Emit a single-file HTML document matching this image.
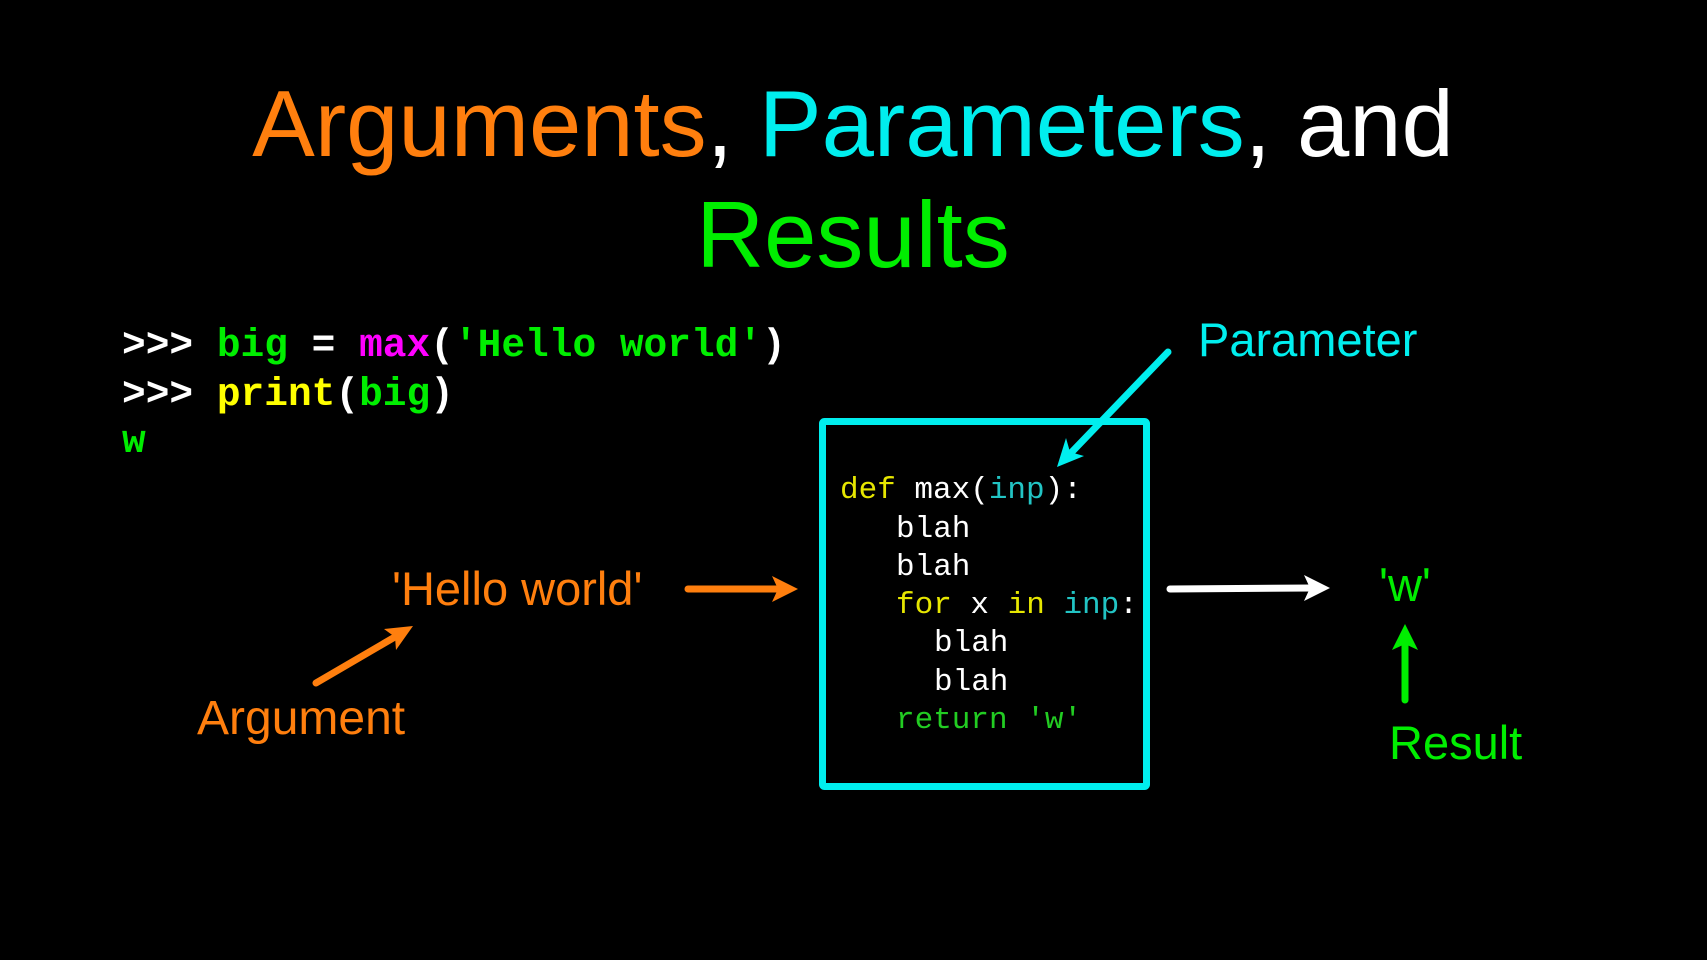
<!DOCTYPE html>
<html><head><meta charset="utf-8"><style>
html,body{margin:0;padding:0;background:#000;}
svg{display:block}
</style></head><body>
<svg width="1707" height="960" viewBox="0 0 1707 960" xmlns="http://www.w3.org/2000/svg">
<rect width="1707" height="960" fill="#000"/>
<g font-family="'Liberation Sans', Arial, sans-serif" font-size="94" text-anchor="middle">
<text x="853" y="156"><tspan fill="#ff7f0e">Arguments</tspan><tspan fill="#fff">, </tspan><tspan fill="#00eeee">Parameters</tspan><tspan fill="#fff">, and</tspan></text>
<text x="853" y="267" fill="#00ee00">Results</text>
</g>
<g font-family="'Liberation Mono', 'Courier New', monospace" font-size="39.5" font-weight="bold" style="white-space:pre">
<text x="122" y="356"><tspan fill="#fff">&gt;&gt;&gt; </tspan><tspan fill="#00ee00">big </tspan><tspan fill="#fff">= </tspan><tspan fill="#ff00ff">max</tspan><tspan fill="#fff">(</tspan><tspan fill="#00ee00">'Hello world'</tspan><tspan fill="#fff">)</tspan></text>
<text x="122" y="405"><tspan fill="#fff">&gt;&gt;&gt; </tspan><tspan fill="#ffff00">print</tspan><tspan fill="#fff">(</tspan><tspan fill="#00ee00">big</tspan><tspan fill="#fff">)</tspan></text>
<text x="122" y="452" fill="#00ee00">w</text>
</g>
<rect x="822.5" y="421.5" width="324" height="365" fill="none" stroke="#00eeee" stroke-width="7" rx="2"/>
<g font-family="'Liberation Mono', 'Courier New', monospace" font-size="31" style="white-space:pre">
<text x="840" y="498"><tspan fill="#e6e600">def</tspan><tspan fill="#fff"> max(</tspan><tspan fill="#22c4c4">inp</tspan><tspan fill="#fff">):</tspan></text>
<text x="896" y="537" fill="#fff">blah</text>
<text x="896" y="575" fill="#fff">blah</text>
<text x="896" y="613"><tspan fill="#e6e600">for</tspan><tspan fill="#fff"> x </tspan><tspan fill="#e6e600">in</tspan><tspan fill="#22c4c4"> inp</tspan><tspan fill="#fff">:</tspan></text>
<text x="934" y="651" fill="#fff">blah</text>
<text x="934" y="690" fill="#fff">blah</text>
<text x="896" y="728" fill="#22cc22">return 'w'</text>
</g>
<g font-family="'Liberation Sans', Arial, sans-serif" font-size="47">
<text x="392" y="605" fill="#ff7f0e">'Hello world'</text>
<text x="197" y="734" fill="#ff7f0e" font-size="48">Argument</text>
<text x="1198" y="356" fill="#00eeee">Parameter</text>
<text x="1379" y="601" fill="#00ee00">'w'</text>
<text x="1389" y="759" fill="#00ee00">Result</text>
</g>
<g stroke-width="7" stroke-linecap="round">
<line x1="688" y1="589" x2="780" y2="589" stroke="#ff7f0e"/>
<polygon points="798,589 772,576 778,589 772,602" fill="#ff7f0e"/>
<line x1="316" y1="683" x2="400" y2="634" stroke="#ff7f0e"/>
<polygon points="413,626 384,629 395,637 396,650" fill="#ff7f0e"/>
<line x1="1168" y1="352" x2="1068" y2="456" stroke="#00eeee"/>
<polygon points="1057,467 1066,438 1070,452 1084,456" fill="#00eeee"/>
<line x1="1170" y1="589" x2="1312" y2="588" stroke="#fff"/>
<polygon points="1330,588 1304,575 1310,588 1304,601" fill="#fff"/>
<line x1="1405" y1="700" x2="1405" y2="640" stroke="#00ee00"/>
<polygon points="1405,624 1392,650 1405,644 1418,650" fill="#00ee00"/>
</g>
</svg>
</body></html>
